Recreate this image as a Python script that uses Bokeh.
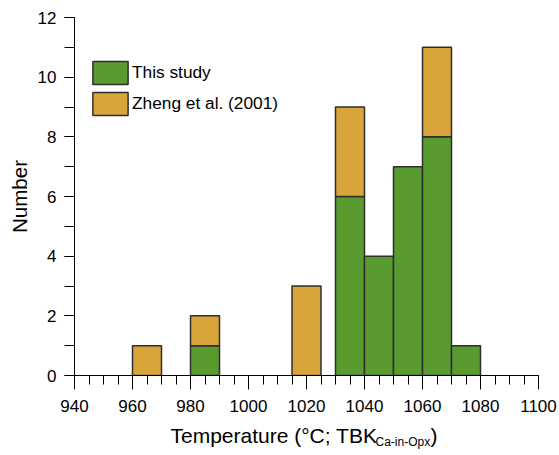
from bokeh.plotting import figure
from bokeh.models import FixedTicker, Legend, LegendItem, ColumnDataSource, Range1d
from bokeh.layouts import column
from bokeh.core.properties import value
from bokeh.embed import file_html
from bokeh.resources import INLINE

# ---- data ----
bin_left = [960, 980, 1015, 1030, 1040, 1050, 1060, 1070]
bin_width = 10
this_study = [0, 1, 0, 6, 4, 7, 8, 1]
zheng = [1, 1, 3, 3, 0, 0, 3, 0]
series_names = ["This study", "Zheng et al. (2001)"]
x_ticks = [940, 960, 980, 1000, 1020, 1040, 1060, 1080, 1100]
y_ticks = [0, 2, 4, 6, 8, 10, 12]
x_title_parts = ["Temperature (°C; TBK", "Ca-in-Opx", ")"]

GREEN = "#5a9b30"
ORANGE = "#d9a53a"
EDGE = "#2e2e2e"
FONT = "Liberation Sans"

centers = [l + bin_width / 2 for l in bin_left]

g_src = ColumnDataSource(dict(
    x=[c for c, v in zip(centers, this_study) if v > 0],
    top=[v for v in this_study if v > 0],
))
o_src = ColumnDataSource(dict(
    x=[c for c, z in zip(centers, zheng) if z > 0],
    bottom=[t for t, z in zip(this_study, zheng) if z > 0],
    top=[t + z for t, z in zip(this_study, zheng) if z > 0],
))

W = 559
FL, FR = 74, 538  # frame left / right in pixels
p = figure(width=W, height=423, min_border_left=FL, min_border_right=W - FR,
           min_border_top=17, min_border_bottom=48,
           x_range=Range1d(940, 1100), y_range=Range1d(0, 12),
           output_backend="svg", toolbar_location=None)
p.outline_line_color = None
p.grid.visible = False
p.background_fill_color = "white"
p.border_fill_color = "white"

g = p.vbar(x="x", top="top", bottom=0, width=bin_width, source=g_src,
           fill_color=GREEN, line_color=EDGE, line_width=1.5)
o = p.vbar(x="x", top="top", bottom="bottom", width=bin_width, source=o_src,
           fill_color=ORANGE, line_color=EDGE, line_width=1.5)

# axes
xa = p.xaxis[0]
xa.ticker = FixedTicker(ticks=x_ticks, minor_ticks=list(range(940, 1101, 5)))
xa.major_tick_out = 14
xa.major_tick_in = 0
xa.minor_tick_out = 9
xa.minor_tick_in = 0
xa.major_label_standoff = 10
xa.axis_label = None

ya = p.yaxis[0]
ya.ticker = FixedTicker(ticks=y_ticks, minor_ticks=list(range(0, 13)))
ya.major_tick_out = 10
ya.major_tick_in = 0
ya.minor_tick_out = 10
ya.minor_tick_in = 0
ya.major_label_standoff = 8
ya.axis_label = "Number"
ya.axis_label_standoff = 4

for ax in (xa, ya):
    ax.axis_line_color = "black"
    ax.major_tick_line_color = "black"
    ax.minor_tick_line_color = "black"
    ax.major_label_text_font = FONT
    ax.major_label_text_font_size = "17px"
    ax.major_label_text_color = "black"
    ax.axis_label_text_font = FONT
    ax.axis_label_text_font_size = "20.5px"
    ax.axis_label_text_font_style = "normal"
    ax.axis_label_text_color = "black"

legend = Legend(items=[LegendItem(label=series_names[0], renderers=[g]),
                       LegendItem(label=series_names[1], renderers=[o])],
                location=(14, 257), orientation="vertical",
                glyph_width=44, glyph_height=29, label_height=29,
                spacing=2, label_standoff=0, padding=0, margin=0,
                border_line_color=None, background_fill_alpha=0,
                label_text_font=FONT, label_text_font_size="17.3px",
                label_text_color="black")
p.add_layout(legend, "center")

# x-axis title (with subscript) in a strip below the plot; its frame is
# aligned with the main frame, so the x range is given in page pixels
t = figure(width=W, height=32, x_range=Range1d(FL, FR), y_range=Range1d(0, 32),
           x_axis_type=None, y_axis_type=None,
           min_border_left=FL, min_border_right=W - FR,
           min_border_top=0, min_border_bottom=0,
           output_backend="svg", toolbar_location=None)
t.outline_line_color = None
t.grid.visible = False
t.border_fill_color = "white"
t.background_fill_color = "white"
t.text(x=[170], y=[20], text=[x_title_parts[0]], text_font=value(FONT),
       text_font_size="21px", text_align="left", text_baseline="alphabetic",
       text_color="black")
t.text(x=[375], y=[14], text=[x_title_parts[1]], text_font=value(FONT),
       text_font_size="12px", text_align="left", text_baseline="alphabetic",
       text_color="black")
t.text(x=[430], y=[20], text=[x_title_parts[2]], text_font=value(FONT),
       text_font_size="21px", text_align="left", text_baseline="alphabetic",
       text_color="black")

layout = column(p, t, spacing=0)
open("out.html", "w").write(file_html(layout, INLINE))
